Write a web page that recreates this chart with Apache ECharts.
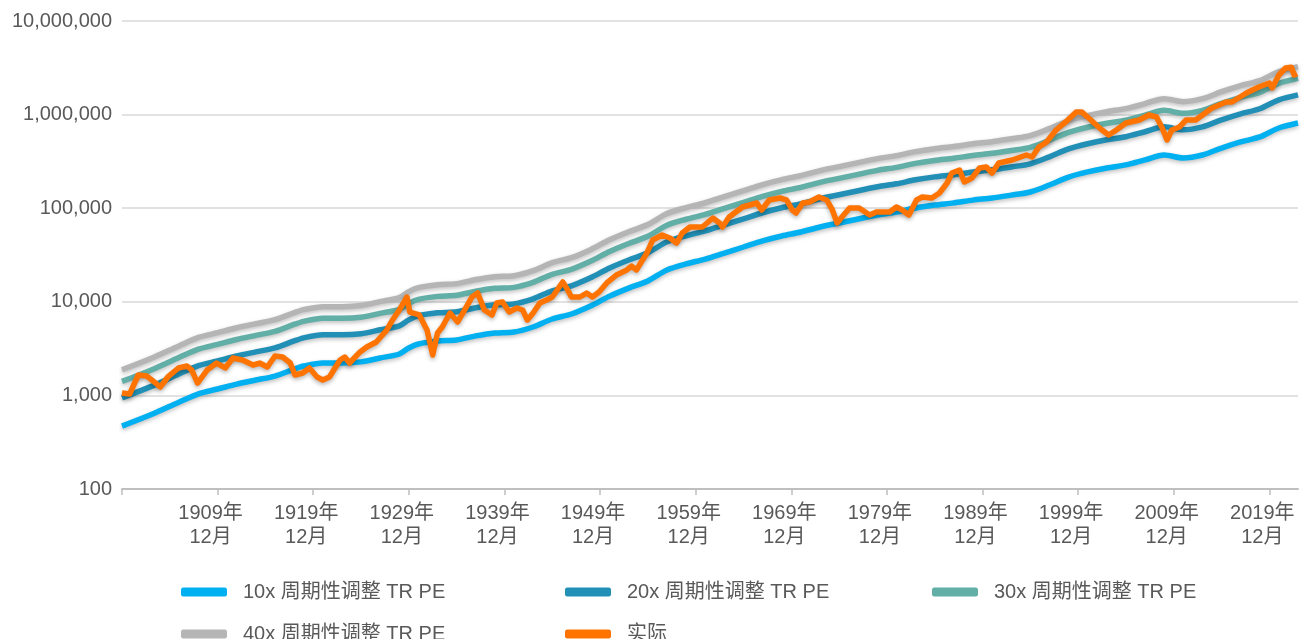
<!DOCTYPE html>
<html>
<head>
<meta charset="utf-8">
<title>周期性调整 TR PE</title>
<script src="https://cdn.jsdelivr.net/npm/echarts@6.0.0/dist/echarts.min.js"></script>
<style>
  html, body { margin: 0; padding: 0; background: #ffffff; }
  #chart { width: 1303px; height: 639px; }
</style>
</head>
<body>
<div id="chart"></div>
<script>
// x = 年份（以每年12月为整数点）
const peYears = [1899, 1902, 1905, 1907, 1909, 1911, 1913, 1915, 1917, 1918, 1920, 1922, 1924, 1926, 1928, 1929,
  1930, 1932, 1934, 1936, 1938, 1940, 1942, 1944, 1946, 1948, 1950, 1952, 1954, 1956, 1958, 1960,
  1962, 1964, 1966, 1968, 1970, 1972, 1974, 1976, 1978, 1980, 1982, 1984, 1986, 1988, 1990, 1992,
  1994, 1996, 1998, 2000, 2002, 2004, 2006, 2008, 2010, 2012, 2014, 2016, 2018, 2020, 2022]

const pe10 = [470, 620, 850, 1040, 1170, 1320, 1460, 1610, 1910, 2060, 2220, 2220, 2280, 2510, 2770, 3210,
  3540, 3810, 3910, 4320, 4640, 4750, 5380, 6550, 7410, 9020, 11500, 14000, 16700, 21900, 25400, 28600,
  33200, 38500, 44700, 50500, 55700, 63000, 69500, 76700, 84600, 91100, 100500, 108000, 114000, 122000, 128500, 138000,
  149000, 177000, 215000, 244000, 269000, 290000, 328000, 370000, 344000, 370000, 439000, 510000, 577000, 719000, 813000]

const pe20 = [940, 1240, 1700, 2080, 2340, 2640, 2920, 3220, 3820, 4120, 4440, 4440, 4560, 5020, 5540, 6420,
  7080, 7620, 7820, 8640, 9280, 9500, 10760, 13100, 14820, 18040, 23000, 28000, 33400, 43800, 50800, 57200,
  66400, 77000, 89400, 101000, 111400, 126000, 139000, 153400, 169200, 182200, 201000, 216000, 228000, 244000, 257000, 276000,
  298000, 354000, 430000, 488000, 538000, 580000, 656000, 740000, 688000, 740000, 878000, 1020000, 1154000, 1438000, 1626000]

const pe30 = [1410, 1860, 2550, 3120, 3510, 3960, 4380, 4830, 5730, 6180, 6660, 6660, 6840, 7530, 8310, 9630,
  10620, 11430, 11730, 12960, 13920, 14250, 16140, 19650, 22230, 27060, 34500, 42000, 50100, 65700, 76200, 85800,
  99600, 115500, 134100, 151500, 167100, 189000, 208500, 230100, 253800, 273300, 301500, 324000, 342000, 366000, 385500, 414000,
  447000, 531000, 645000, 732000, 807000, 870000, 984000, 1110000, 1032000, 1110000, 1317000, 1530000, 1731000, 2157000, 2439000]

const pe40 = [1880, 2480, 3400, 4160, 4680, 5280, 5840, 6440, 7640, 8240, 8880, 8880, 9120, 10040, 11080, 12840,
  14160, 15240, 15640, 17280, 18560, 19000, 21520, 26200, 29640, 36080, 46000, 56000, 66800, 87600, 101600, 114400,
  132800, 154000, 178800, 202000, 222800, 252000, 278000, 306800, 338400, 364400, 402000, 432000, 456000, 488000, 514000, 552000,
  596000, 708000, 860000, 976000, 1076000, 1160000, 1312000, 1480000, 1376000, 1480000, 1756000, 2040000, 2308000, 2876000, 3252000]

const actualYears = [1899.0, 1899.8, 1900.7, 1901.6, 1902.1, 1903.0, 1903.8, 1904.9, 1905.8, 1906.3, 1906.9, 1907.9,
  1908.9, 1909.8, 1910.6, 1911.6, 1912.7, 1913.4, 1914.2, 1915.0, 1915.8, 1916.6, 1917.1, 1917.9,
  1918.6, 1919.4, 1920.0, 1920.7, 1921.8, 1922.3, 1922.8, 1923.9, 1924.6, 1925.6, 1926.7, 1927.3,
  1928.0, 1928.8, 1929.1, 1930.1, 1930.9, 1931.5, 1932.0, 1932.5, 1933.3, 1934.1, 1935.0, 1935.6,
  1936.2, 1936.9, 1937.7, 1938.2, 1938.8, 1939.5, 1940.3, 1940.9, 1941.4, 1942.0, 1942.7, 1943.4,
  1944.0, 1945.1, 1945.5, 1946.0, 1946.9, 1947.6, 1948.2, 1948.9, 1949.7, 1950.7, 1951.8, 1952.3,
  1952.8, 1953.9, 1954.5, 1955.5, 1956.3, 1957.0, 1957.6, 1958.4, 1959.7, 1960.8, 1961.5, 1961.8,
  1962.5, 1963.9, 1965.4, 1965.9, 1966.7, 1967.8, 1968.5, 1969.1, 1969.5, 1970.2, 1970.9, 1971.9,
  1972.7, 1973.3, 1973.8, 1974.3, 1975.1, 1976.1, 1977.2, 1977.9, 1979.3, 1980.0, 1980.6, 1981.3,
  1982.1, 1982.7, 1983.7, 1984.5, 1985.3, 1985.8, 1986.6, 1987.1, 1987.9, 1988.7, 1989.4, 1990.0,
  1990.7, 1992.1, 1993.6, 1994.2, 1994.9, 1995.7, 1996.7, 1997.7, 1998.8, 1999.4, 2000.1, 2000.9,
  2001.5, 2002.2, 2003.0, 2004.0, 2005.4, 2006.4, 2007.2, 2007.8, 2008.3, 2008.8, 2009.6, 2010.3,
  2011.3, 2013.0, 2014.5, 2015.1, 2016.6, 2017.9, 2019.0, 2019.3, 2020.0, 2020.7, 2021.3, 2021.6, 2021.9]

const actualValues = [1061, 1035, 1652, 1611, 1462, 1230, 1574, 1963, 2061, 1866, 1356, 1866,
  2218, 1963, 2512, 2388, 2113, 2218, 2010, 2636, 2570, 2218, 1652, 1734,
  1963, 1574, 1462, 1574, 2388, 2570, 2218, 2911, 3289, 3722, 5000, 6394,
  8169, 11250, 7780, 7228, 5000, 2704, 4641, 5383, 7586, 6081, 8790, 11250,
  12410, 8169, 7228, 9705, 9950, 7780, 8590, 8169, 6394, 7586, 9705, 10450,
  11250, 16290, 14040, 11250, 11250, 12410, 11250, 12730, 15890, 19320, 21870, 24110,
  21870, 33190, 45710, 51760, 48080, 42460, 54330, 62950, 62950, 78520, 69500, 62950,
  80540, 103000, 113700, 95720, 122400, 128500, 122400, 95720, 88920, 113700, 116500, 131700,
  122400, 95720, 69500, 80540, 100500, 100500, 84550, 91060, 91060, 103000, 95720, 84550,
  122400, 131700, 128500, 145200, 185800, 237700, 255900, 190500, 210300, 268700, 275400, 237700,
  304100, 327500, 370000, 352400, 450800, 509600, 684500, 834000, 1066000, 1066000, 920000, 774000,
  684500, 605000, 684500, 813000, 875000, 990000, 942000, 719300, 535000, 684500, 737000, 875000,
  875000, 1177000, 1364000, 1364000, 1701000, 1972000, 2176000, 1925000, 2649000, 3148000, 3200000, 2649000, 2750000]

const labelYears = [1909, 1919, 1929, 1939, 1949, 1959, 1969, 1979, 1989, 1999, 2009, 2019]
const tickYears = [1899, 1909, 1919, 1929, 1939, 1949, 1959, 1969, 1979, 1989, 1999, 2009, 2019]

const seriesNames = ['10x 周期性调整 TR PE', '20x 周期性调整 TR PE', '30x 周期性调整 TR PE', '40x 周期性调整 TR PE', '实际']
const seriesColors = ['#00B0F0', '#2290B6', '#62AFA7', '#B5B5B5', '#FF7300']

const FONT = '"Liberation Sans", "Noto Sans CJK SC", sans-serif'
const TEXT = '#595959'

function pairs (xs, ys) {
  return xs.map((x, i) => [x, ys[i]])
}

const chart = echarts.init(document.getElementById('chart'))

const peData = [pe10, pe20, pe30, pe40]
const series = peData.map((vals, i) => ({
  name: seriesNames[i],
  type: 'line',
  data: pairs(peYears, vals),
  showSymbol: false,
  smooth: 0.3,
  color: seriesColors[i],
  lineStyle: {
    width: 5.5,
    color: seriesColors[i],
    shadowColor: 'rgba(0, 0, 0, 0.25)',
    shadowBlur: 4,
    shadowOffsetY: 2
  },
  z: 2 + i
}))

series.push({
  name: seriesNames[4],
  type: 'line',
  data: pairs(actualYears, actualValues),
  showSymbol: false,
  color: seriesColors[4],
  lineStyle: {
    width: 5.5,
    color: seriesColors[4],
    join: 'round',
    shadowColor: 'rgba(0, 0, 0, 0.3)',
    shadowBlur: 4,
    shadowOffsetY: 2
  },
  z: 10
})

// 图例分两行，每列固定位置
const legendPos = [[176, 577], [560, 577], [927, 577], [176, 619], [560, 619]]
const legends = seriesNames.map((name, i) => ({
  data: [name],
  left: legendPos[i][0],
  top: legendPos[i][1],
  icon: 'roundRect',
  itemWidth: 46,
  itemHeight: 9,
  textStyle: {
    color: TEXT,
    fontSize: 20,
    fontFamily: FONT,
    padding: [0, 0, 0, 11]
  }
}))

chart.setOption({
  animation: false,
  backgroundColor: '#ffffff',
  grid: { left: 122, right: 5, top: 21, bottom: 150, outerBoundsMode: 'none' },
  legend: legends,
  xAxis: {
    type: 'value',
    min: 1899,
    max: 2022,
    splitLine: { show: false },
    axisLine: { show: true, lineStyle: { color: '#bfbfbf', width: 2 } },
    axisTick: {
      show: true,
      length: 6,
      customValues: tickYears,
      lineStyle: { color: '#bfbfbf', width: 1.5 }
    },
    axisLabel: {
      customValues: labelYears,
      formatter: v => Math.round(v) + '年\n12月',
      color: TEXT,
      fontSize: 20,
      fontFamily: FONT,
      lineHeight: 24,
      margin: 12,
      padding: [0, 14, 0, 0]
    }
  },
  yAxis: {
    type: 'log',
    logBase: 10,
    min: 100,
    max: 10000000,
    axisLine: { show: false },
    axisTick: { show: false },
    splitLine: { lineStyle: { color: '#d9d9d9', width: 1.5 } },
    axisLabel: {
      formatter: v => String(Math.round(v)).replace(/\B(?=(\d{3})+(?!\d))/g, ','),
      color: TEXT,
      fontSize: 20,
      fontFamily: FONT,
      margin: 10
    }
  },
  series: series
})
</script>
</body>
</html>
